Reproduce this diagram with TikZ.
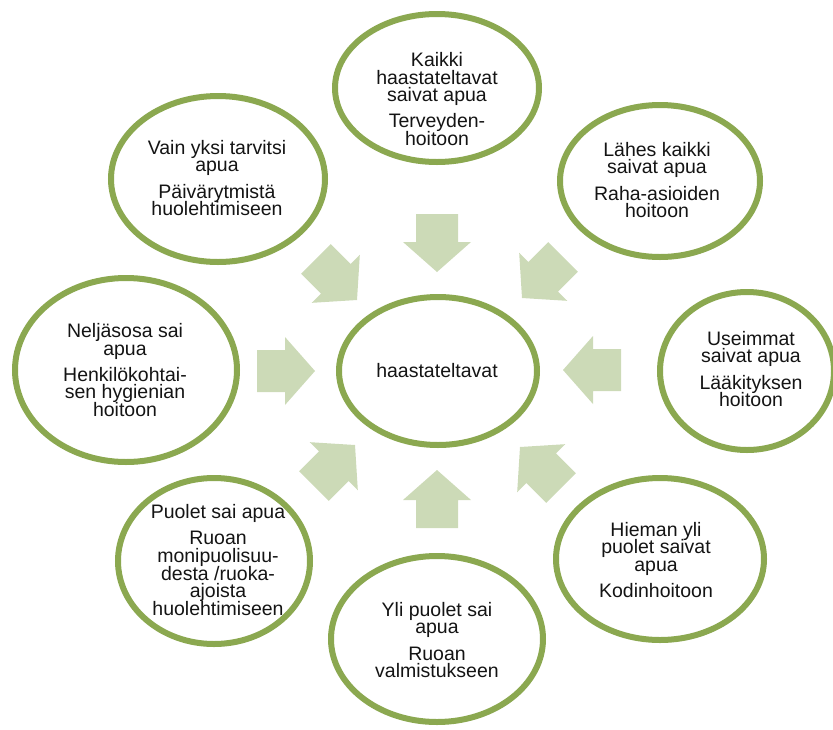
\documentclass[tikz,border=0pt]{standalone}
\usepackage{fontspec}
\setmainfont{Liberation Sans}
\usetikzlibrary{shapes.geometric,shadows}
\definecolor{ring}{RGB}{139,168,80}
\definecolor{arr}{RGB}{204,218,183}
\definecolor{txt}{RGB}{20,20,20}
\newcommand\lblfont{\fontsize{19.5pt}{17.7pt}\selectfont\lineskiplimit -20pt\relax}
\begin{document}
\begin{tikzpicture}[x=1pt,y=-1pt,
  bub/.style={ellipse, draw=ring, line width=6pt, fill=white, inner sep=0pt,
    drop shadow={opacity=0.22,shadow xshift=1pt,shadow yshift=-2.5pt}},
  lbl/.style={align=center, text=txt, inner sep=0pt, font=\lblfont},
  barrow/.pic={\fill[arr] (0,0) -- (-30,-34) -- (-30,-21) -- (-58,-21) -- (-58,21) -- (-30,21) -- (-30,34) -- cycle;}
]
\useasboundingbox (0,0) rectangle (833,729);
% ellipses
\node[bub, minimum width=198pt, minimum height=148pt] (c) at (438,371) {};
\node[bub, minimum width=204pt, minimum height=148pt] (n) at (437,88) {};
\node[bub, minimum width=214pt, minimum height=166pt] (nw) at (218,179) {};
\node[bub, minimum width=200pt, minimum height=152pt] (ne) at (660,181) {};
\node[bub, minimum width=222pt, minimum height=184pt] (w) at (126,370) {};
\node[bub, minimum width=174pt, minimum height=158pt] (e) at (747,371) {};
\node[bub, minimum width=192pt, minimum height=166pt] (sw) at (214,561) {};
\node[bub, minimum width=212pt, minimum height=166pt] (s) at (437,639) {};
\node[bub, minimum width=208pt, minimum height=162pt] (se) at (660,559) {};
% texts
\node[lbl] (ct) at (437,371) {haastateltavat};
\node[lbl] (nt) at (437,99) {Kaikki\\haastateltavat\\saivat apua\\[8.5pt]Terveyden-\\hoitoon};
\node[lbl] (nwt) at (217,178) {Vain yksi tarvitsi\\apua\\[8.5pt]Päivärytmistä\\huolehtimiseen};
\node[lbl] (net) at (657,180) {Lähes kaikki\\saivat apua\\[8.5pt]Raha-asioiden\\hoitoon};
\node[lbl] (wt) at (125,370) {Neljäsosa sai\\apua\\[8.5pt]Henkilökohtai-\\sen hygienian\\hoitoon};
\node[lbl] (et) at (751,369) {Useimmat\\saivat apua\\[8.5pt]Lääkityksen\\hoitoon};
\node[lbl] (swt) at (218,560) {Puolet sai apua\\[8.5pt]Ruoan\\monipuolisuu-\\desta /ruoka-\\ajoista\\huolehtimiseen};
\node[lbl] (st) at (437,640) {Yli puolet sai\\apua\\[8.5pt]Ruoan\\valmistukseen};
\node[lbl] (set) at (656,560) {Hieman yli\\puolet saivat\\apua\\[8.5pt]Kodinhoitoon};
% block arrows toward the centre
\pic[rotate=-90] at (437,272) {barrow};
\pic[rotate=90] at (437,470) {barrow};
\pic[rotate=0] at (315,371) {barrow};
\pic[rotate=180] at (563,370) {barrow};
\pic[rotate=-45] at (357,300) {barrow};
\pic[rotate=-135] at (522,298) {barrow};
\pic[rotate=45] at (355,445) {barrow};
\pic[rotate=135] at (520,447) {barrow};
\end{tikzpicture}
\end{document}
